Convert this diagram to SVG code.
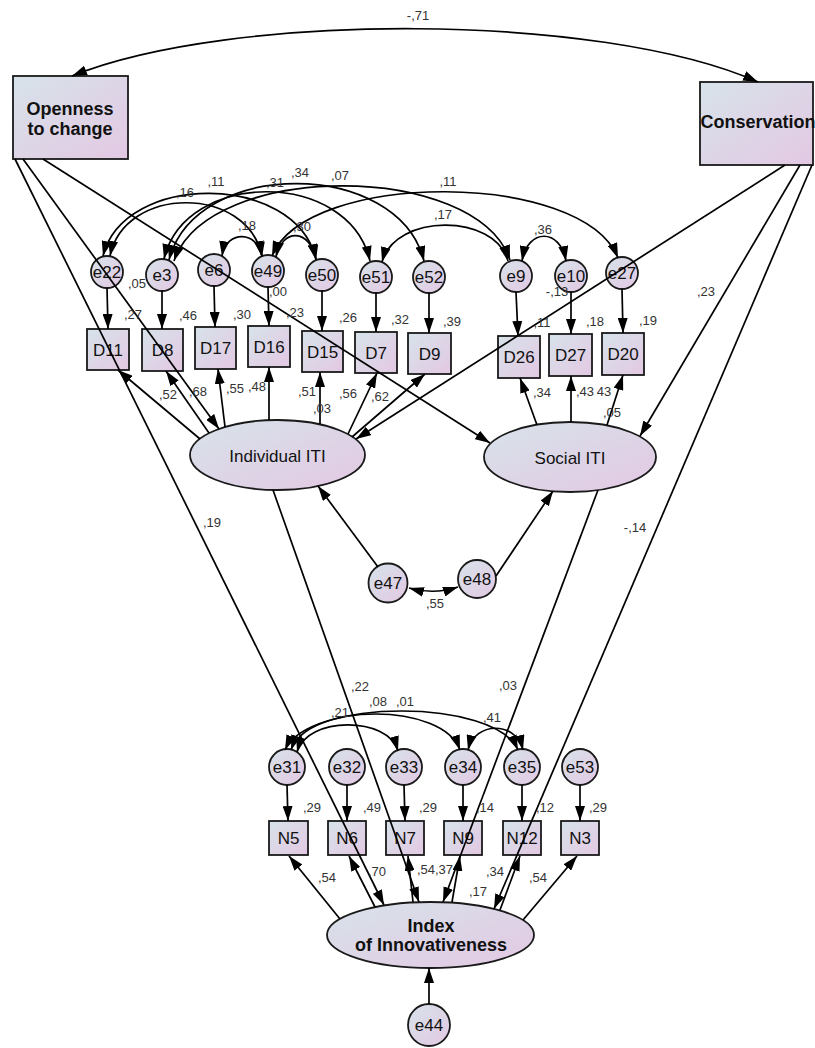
<svg xmlns="http://www.w3.org/2000/svg" width="815" height="1048" viewBox="0 0 815 1048">
<defs>
<linearGradient id="g" x1="0" y1="0" x2="1" y2="1">
<stop offset="0" stop-color="#d7e3ea"/>
<stop offset="1" stop-color="#e3c8e3"/>
</linearGradient>
<marker id="ah" viewBox="0 0 15 10" refX="15" refY="5" markerWidth="15" markerHeight="10" markerUnits="userSpaceOnUse" orient="auto-start-reverse">
<path d="M0,0 L15,5 L0,10 z" fill="#000"/>
</marker>
</defs>
<style>
.n{fill:url(#g);stroke:#1a1a1a;stroke-width:1.8}
.t{font-family:"Liberation Sans",Arial,sans-serif;font-size:17px;fill:#111;text-anchor:middle}
.b{font-family:"Liberation Sans",Arial,sans-serif;font-size:18px;font-weight:bold;fill:#111;text-anchor:middle}
.l{font-family:"Liberation Sans",Arial,sans-serif;font-size:13px;fill:#333;text-anchor:middle}
.c path,.c line{fill:none;stroke:#000;stroke-width:1.7}
.a{marker-end:url(#ah)}
.d{marker-start:url(#ah);marker-end:url(#ah)}
</style>
<rect width="815" height="1048" fill="#fff"/>

<g id="openness"><rect class="n" x="13" y="76" width="115" height="83"/><text class="b" x="70" y="115">Openness</text><text class="b" x="70" y="135">to change</text></g>
<g id="conservation"><rect class="n" x="700" y="82" width="113" height="83"/><text class="b" x="758" y="128">Conservation</text></g>

<g id="e22"><circle class="n" cx="107" cy="272" r="16"/><text class="t" x="107" y="278">e22</text></g>
<g id="e3"><circle class="n" cx="162" cy="275" r="16"/><text class="t" x="162" y="281">e3</text></g>
<g id="e6"><circle class="n" cx="214" cy="270" r="16"/><text class="t" x="214" y="276">e6</text></g>
<g id="e49"><circle class="n" cx="268" cy="271" r="16"/><text class="t" x="268" y="277">e49</text></g>
<g id="e50"><circle class="n" cx="322" cy="275" r="16"/><text class="t" x="322" y="281">e50</text></g>
<g id="e51"><circle class="n" cx="376" cy="277" r="16"/><text class="t" x="376" y="283">e51</text></g>
<g id="e52"><circle class="n" cx="429" cy="277" r="16"/><text class="t" x="429" y="283">e52</text></g>
<g id="e9"><circle class="n" cx="516" cy="276" r="16"/><text class="t" x="516" y="282">e9</text></g>
<g id="e10"><circle class="n" cx="571" cy="276" r="16"/><text class="t" x="571" y="282">e10</text></g>
<g id="e27"><circle class="n" cx="622" cy="273" r="16"/><text class="t" x="622" y="279">e27</text></g>

<g id="D11"><rect class="n" x="87" y="329" width="42" height="41"/><text class="t" x="108" y="356">D11</text></g>
<g id="D8"><rect class="n" x="142" y="329" width="41" height="42"/><text class="t" x="162.5" y="356">D8</text></g>
<g id="D17"><rect class="n" x="195" y="327" width="41" height="42"/><text class="t" x="215.5" y="354">D17</text></g>
<g id="D16"><rect class="n" x="248" y="326" width="42" height="41"/><text class="t" x="269" y="353">D16</text></g>
<g id="D15"><rect class="n" x="302" y="331" width="41" height="41"/><text class="t" x="322.5" y="358">D15</text></g>
<g id="D7"><rect class="n" x="355" y="332" width="42" height="41"/><text class="t" x="376" y="359">D7</text></g>
<g id="D9"><rect class="n" x="408" y="333" width="43" height="41"/><text class="t" x="429.5" y="360">D9</text></g>
<g id="D26"><rect class="n" x="498" y="336" width="42" height="42"/><text class="t" x="519" y="363">D26</text></g>
<g id="D27"><rect class="n" x="549" y="334" width="43" height="42"/><text class="t" x="570.5" y="361">D27</text></g>
<g id="D20"><rect class="n" x="602" y="333" width="42" height="42"/><text class="t" x="623" y="360">D20</text></g>

<g id="individual"><ellipse class="n" cx="277.5" cy="455" rx="87.5" ry="35"/><text class="t" x="277.5" y="462">Individual ITI</text></g>
<g id="social"><ellipse class="n" cx="570" cy="457" rx="86" ry="35"/><text class="t" x="570" y="464">Social ITI</text></g>

<g id="e47"><circle class="n" cx="388" cy="583" r="19.5"/><text class="t" x="388" y="589">e47</text></g>
<g id="e48"><circle class="n" cx="477" cy="579" r="19"/><text class="t" x="477" y="585">e48</text></g>

<g id="e31"><circle class="n" cx="287" cy="767" r="18"/><text class="t" x="287" y="773">e31</text></g>
<g id="e32"><circle class="n" cx="347" cy="767" r="18"/><text class="t" x="347" y="773">e32</text></g>
<g id="e33"><circle class="n" cx="404" cy="767" r="18"/><text class="t" x="404" y="773">e33</text></g>
<g id="e34"><circle class="n" cx="463" cy="767" r="18"/><text class="t" x="463" y="773">e34</text></g>
<g id="e35"><circle class="n" cx="522" cy="767" r="18"/><text class="t" x="522" y="773">e35</text></g>
<g id="e53"><circle class="n" cx="580" cy="767" r="18"/><text class="t" x="580" y="773">e53</text></g>

<g id="N5"><rect class="n" x="269" y="821" width="39" height="34"/><text class="t" x="288.5" y="844">N5</text></g>
<g id="N6"><rect class="n" x="328" y="821" width="38" height="34"/><text class="t" x="347" y="844">N6</text></g>
<g id="N7"><rect class="n" x="386" y="821" width="38" height="34"/><text class="t" x="405" y="844">N7</text></g>
<g id="N9"><rect class="n" x="444" y="821" width="38" height="34"/><text class="t" x="463" y="844">N9</text></g>
<g id="N12"><rect class="n" x="503" y="821" width="38" height="34"/><text class="t" x="522" y="844">N12</text></g>
<g id="N3"><rect class="n" x="561" y="821" width="38" height="34"/><text class="t" x="580" y="844">N3</text></g>

<g id="index"><ellipse class="n" cx="430.5" cy="935" rx="103.5" ry="33"/><text class="b" x="431" y="932">Index</text><text class="b" x="431" y="951">of Innovativeness</text></g>
<g id="e44"><circle class="n" cx="429" cy="1025" r="21"/><text class="t" x="429" y="1031">e44</text></g>

<g id="connectors" class="c">
<path class="d" d="M72,76 C230,12 600,12 758,82"/>
<line class="a" x1="15" y1="159" x2="384" y2="905"/>
<line class="a" x1="23" y1="159" x2="219" y2="429"/>
<line class="a" x1="43" y1="159" x2="490" y2="443"/>
<line class="a" x1="785" y1="165" x2="356" y2="439"/>
<line class="a" x1="800" y1="165" x2="640" y2="436"/>
<line class="a" x1="812" y1="165" x2="494" y2="909"/>
<line class="a" x1="273" y1="490" x2="419" y2="902"/>
<line class="a" x1="598" y1="490" x2="443" y2="902"/>
<line class="a" x1="378" y1="567" x2="318" y2="486"/>
<line class="a" x1="496" y1="576" x2="553" y2="491"/>
<path class="d" d="M409,588 Q434,595 458,587"/>
<path class="d" d="M110,256 C125,185 247,185 262,256"/>
<path class="d" d="M103,256 C124,172 295,172 316,259"/>
<path class="d" d="M164,259 C185,169 349,169 370,261"/>
<path class="d" d="M169,260 C195,158 398,158 424,261"/>
<path class="d" d="M174,261 C208,161 476,161 510,260"/>
<path class="d" d="M222,256 C226,230 258,230 262,257"/>
<path class="d" d="M276,257 C282,228 310,228 316,260"/>
<path class="d" d="M272,256 C307,170 583,170 618,258"/>
<path class="d" d="M382,262 C395,213 495,213 508,261"/>
<path class="d" d="M522,261 C528,228 560,228 566,261"/>
<line class="a" x1="107" y1="288" x2="108" y2="329"/>
<line class="a" x1="162" y1="291" x2="162" y2="329"/>
<line class="a" x1="214" y1="286" x2="215" y2="327"/>
<line class="a" x1="268" y1="287" x2="269" y2="326"/>
<line class="a" x1="322" y1="291" x2="322" y2="331"/>
<line class="a" x1="376" y1="293" x2="376" y2="332"/>
<line class="a" x1="429" y1="293" x2="429" y2="333"/>
<line class="a" x1="516" y1="292" x2="518" y2="336"/>
<line class="a" x1="571" y1="292" x2="571" y2="334"/>
<line class="a" x1="622" y1="289" x2="623" y2="333"/>
<line class="a" x1="200" y1="439" x2="118" y2="370"/>
<line class="a" x1="209" y1="433" x2="166" y2="371"/>
<line class="a" x1="225" y1="427" x2="218" y2="369"/>
<line class="a" x1="269" y1="420" x2="269" y2="367"/>
<line class="a" x1="320" y1="424" x2="320" y2="372"/>
<line class="a" x1="348" y1="434" x2="377" y2="373"/>
<line class="a" x1="352" y1="437" x2="425" y2="374"/>
<line class="a" x1="537" y1="425" x2="520" y2="378"/>
<line class="a" x1="571" y1="422" x2="571" y2="376"/>
<line class="a" x1="607" y1="425" x2="623" y2="375"/>
<path class="d" d="M297,752 C307,716 388,716 398,751"/>
<path class="d" d="M291,750 C308,702 443,702 460,750"/>
<path class="d" d="M285,750 C308,698 495,698 518,750"/>
<path class="d" d="M468,750 C475,721 516,721 523,750"/>
<line class="a" x1="287" y1="785" x2="288" y2="821"/>
<line class="a" x1="347" y1="785" x2="347" y2="821"/>
<line class="a" x1="404" y1="785" x2="405" y2="821"/>
<line class="a" x1="463" y1="785" x2="463" y2="821"/>
<line class="a" x1="522" y1="785" x2="522" y2="821"/>
<line class="a" x1="580" y1="785" x2="580" y2="821"/>
<line class="a" x1="340" y1="919" x2="289" y2="856"/>
<line class="a" x1="375" y1="907" x2="349" y2="856"/>
<line class="a" x1="413" y1="902" x2="408" y2="856"/>
<line class="a" x1="452" y1="902" x2="460" y2="856"/>
<line class="a" x1="500" y1="910" x2="520" y2="856"/>
<line class="a" x1="523" y1="920" x2="577" y2="856"/>
<line class="a" x1="429" y1="1004" x2="429" y2="968"/>
</g>

<g id="labels">
<text class="l" x="418" y="20">-,71</text>
<text class="l" x="185" y="197">,16</text>
<text class="l" x="216" y="186">,11</text>
<text class="l" x="275" y="187">,31</text>
<text class="l" x="300" y="177">,34</text>
<text class="l" x="340" y="180">,07</text>
<text class="l" x="247" y="230">,18</text>
<text class="l" x="302" y="231">,30</text>
<text class="l" x="448" y="186">,11</text>
<text class="l" x="443" y="219">,17</text>
<text class="l" x="543" y="234">,36</text>
<text class="l" x="137" y="288">,05</text>
<text class="l" x="278" y="296">,00</text>
<text class="l" x="557" y="296">-,13</text>
<text class="l" x="706" y="296">,23</text>
<text class="l" x="133" y="319">,27</text>
<text class="l" x="188" y="320">,46</text>
<text class="l" x="242" y="319">,30</text>
<text class="l" x="295" y="317">,23</text>
<text class="l" x="348" y="322">,26</text>
<text class="l" x="400" y="324">,32</text>
<text class="l" x="452" y="326">,39</text>
<text class="l" x="542" y="327">,11</text>
<text class="l" x="595" y="326">,18</text>
<text class="l" x="648" y="325">,19</text>
<text class="l" x="168" y="399">,52</text>
<text class="l" x="198" y="396">,68</text>
<text class="l" x="235" y="393">,55</text>
<text class="l" x="257" y="391">,48</text>
<text class="l" x="307" y="396">,51</text>
<text class="l" x="322" y="413">,03</text>
<text class="l" x="348" y="398">,56</text>
<text class="l" x="380" y="401">,62</text>
<text class="l" x="542" y="397">,34</text>
<text class="l" x="585" y="396">,43</text>
<text class="l" x="604" y="396">43</text>
<text class="l" x="612" y="417">,05</text>
<text class="l" x="212" y="527">,19</text>
<text class="l" x="635" y="532">-,14</text>
<text class="l" x="435" y="608">,55</text>
<text class="l" x="360" y="691">,22</text>
<text class="l" x="508" y="690">,03</text>
<text class="l" x="340" y="717">,21</text>
<text class="l" x="378" y="706">,08</text>
<text class="l" x="405" y="706">,01</text>
<text class="l" x="492" y="722">,41</text>
<text class="l" x="312" y="812">,29</text>
<text class="l" x="372" y="812">,49</text>
<text class="l" x="428" y="812">,29</text>
<text class="l" x="485" y="812">,14</text>
<text class="l" x="545" y="812">,12</text>
<text class="l" x="598" y="812">,29</text>
<text class="l" x="327" y="882">,54</text>
<text class="l" x="377" y="876">,70</text>
<text class="l" x="426" y="874">,54</text>
<text class="l" x="444" y="874">,37</text>
<text class="l" x="495" y="876">,34</text>
<text class="l" x="478" y="896">,17</text>
<text class="l" x="538" y="882">,54</text>
</g>
</svg>
